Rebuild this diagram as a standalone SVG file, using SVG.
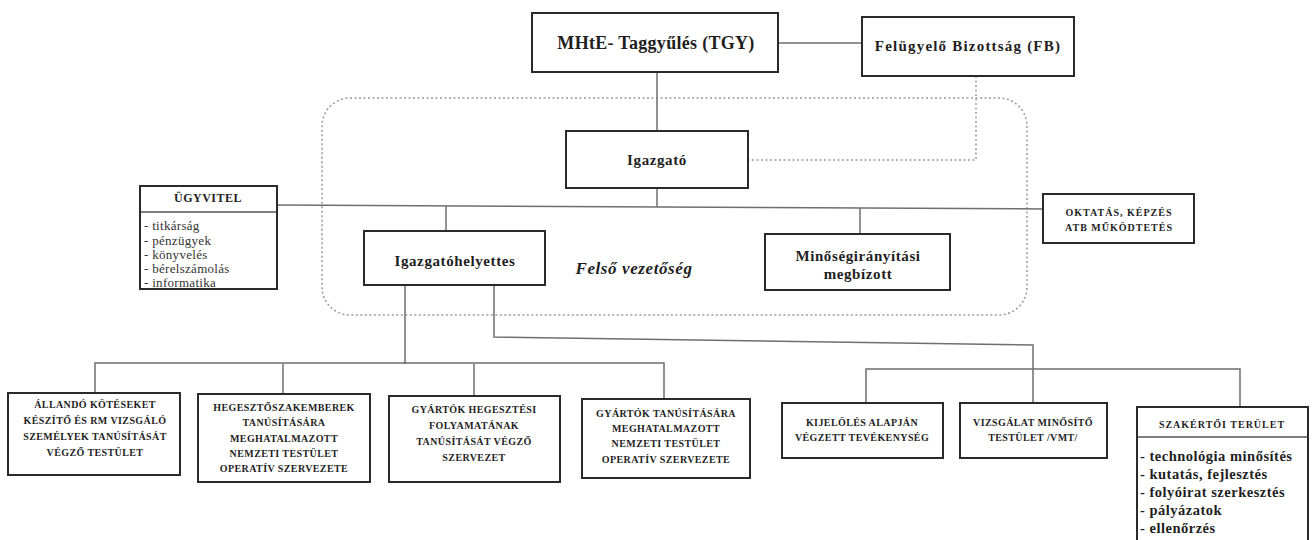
<svg xmlns="http://www.w3.org/2000/svg" width="1312" height="540" viewBox="0 0 1312 540">
<style>
.box{fill:#fff;stroke:#2a2a2a;stroke-width:2}
.ln{fill:none;stroke:#6e6e6e;stroke-width:1.5}
.dot{fill:none;stroke:#9a9a9a;stroke-width:1.5;stroke-dasharray:2 2.5}
text{font-family:"Liberation Serif","Times New Roman",serif;font-weight:bold;fill:#1e1e1e;text-anchor:middle}
.t18{font-size:18px;letter-spacing:0.3px}
.t15{font-size:15px;letter-spacing:0.6px}
.fb{font-size:15px;letter-spacing:1.2px}
.t11{font-size:12px;letter-spacing:0.5px}
.c{font-size:10px;letter-spacing:0.4px}
.ok{font-size:10px;letter-spacing:1px}
.li{font-size:13px;text-anchor:start;font-weight:normal;fill:#333;letter-spacing:0.3px}
.lb{font-size:14.5px;text-anchor:start;letter-spacing:0.5px}
.it{font-size:17px;font-style:italic;letter-spacing:0.6px}
</style>
<rect width="1312" height="540" fill="#fff"/>
<g id="connectors">
<rect class="dot" x="322" y="98" width="705" height="217" rx="28"/>
<path class="dot" d="M976 76V160H748"/>
<path class="ln" d="M778 43H862"/>
<path class="ln" d="M657 72V131"/>
<path class="ln" d="M657 188V207"/>
<path class="ln" d="M278 205L1043 209"/>
<path class="ln" d="M446 206V231"/>
<path class="ln" d="M860 208V234"/>
<path class="ln" d="M405 285V364"/>
<path class="ln" d="M95 393V363H664V399"/>
<path class="ln" d="M283 364V394"/>
<path class="ln" d="M474 364V396"/>
<path class="ln" d="M494 285V337L1033 345V403"/>
<path class="ln" d="M866 403V369H1240V407"/>
</g>
<g id="tgy"><rect class="box" x="532" y="13" width="246" height="59"/><text class="t18" x="656" y="49">MHtE- Taggyűlés (TGY)</text></g>
<g id="fb"><rect class="box" x="862" y="17" width="212" height="59"/><text class="fb" x="968" y="51">Felügyelő Bizottság (FB)</text></g>
<g id="igazgato"><rect class="box" x="566" y="131" width="182" height="57"/><text class="t15" x="657" y="165">Igazgató</text></g>
<g id="ugyvitel"><rect class="box" x="140" y="186" width="137" height="103"/><path d="M141 212H276" stroke="#555" stroke-width="1.5"/><text class="t11" x="208" y="202">ÜGYVITEL</text>
<text class="li" x="144" y="230">- titkárság</text><text class="li" x="144" y="245">- pénzügyek</text><text class="li" x="144" y="259">- könyvelés</text><text class="li" x="144" y="273">- bérelszámolás</text><text class="li" x="144" y="287">- informatika</text></g>
<g id="oktatas"><rect class="box" x="1043" y="194" width="151" height="49"/><text class="ok" x="1119" y="216">OKTATÁS, KÉPZÉS</text><text class="ok" x="1119" y="231">ATB MŰKÖDTETÉS</text></g>
<g id="helyettes"><rect class="box" x="364" y="231" width="181" height="54"/><text class="t15" x="455" y="266">Igazgatóhelyettes</text></g>
<g id="minoseg"><rect class="box" x="765" y="234" width="185" height="56"/><text class="t15" x="858" y="261">Minőségirányítási</text><text class="t15" x="858" y="279">megbízott</text></g>
<text class="it" x="634" y="274">Felső vezetőség</text>
<g id="allando"><rect class="box" x="8" y="393" width="172" height="82"/><text class="c" x="95" y="408">ÁLLANDÓ KÖTÉSEKET</text><text class="c" x="95" y="424">KÉSZÍTŐ ÉS RM VIZSGÁLÓ</text><text class="c" x="95" y="440">SZEMÉLYEK TANÚSÍTÁSÁT</text><text class="c" x="95" y="456">VÉGZŐ TESTÜLET</text></g>
<g id="hegeszto"><rect class="box" x="198" y="394" width="172" height="88"/><text class="c" x="284" y="411">HEGESZTŐSZAKEMBEREK</text><text class="c" x="284" y="426">TANÚSÍTÁSÁRA</text><text class="c" x="284" y="442">MEGHATALMAZOTT</text><text class="c" x="284" y="457">NEMZETI TESTÜLET</text><text class="c" x="284" y="472">OPERATÍV SZERVEZETE</text></g>
<g id="gyartok1"><rect class="box" x="389" y="396" width="171" height="86"/><text class="c" x="474" y="413">GYÁRTÓK HEGESZTÉSI</text><text class="c" x="474" y="429">FOLYAMATÁNAK</text><text class="c" x="474" y="445">TANÚSÍTÁSÁT VÉGZŐ</text><text class="c" x="474" y="461">SZERVEZET</text></g>
<g id="gyartok2"><rect class="box" x="582" y="399" width="168" height="79"/><text class="c" x="666" y="417">GYÁRTÓK TANÚSÍTÁSÁRA</text><text class="c" x="666" y="432">MEGHATALMAZOTT</text><text class="c" x="666" y="447">NEMZETI TESTÜLET</text><text class="c" x="666" y="463">OPERATÍV SZERVEZETE</text></g>
<g id="kijeloles"><rect class="box" x="782" y="403" width="161" height="55"/><text class="c" x="862" y="426">KIJELÖLÉS ALAPJÁN</text><text class="c" x="862" y="441">VÉGZETT TEVÉKENYSÉG</text></g>
<g id="vizsgalat"><rect class="box" x="960" y="403" width="147" height="55"/><text class="c" x="1033" y="426">VIZSGÁLAT MINŐSÍTŐ</text><text class="c" x="1033" y="441">TESTÜLET /VMT/</text></g>
<g id="szakertoi"><path class="box" d="M1137 541V407H1308V541"/><path d="M1138 437H1307" stroke="#555" stroke-width="1.5"/><text class="ok" x="1222" y="428">SZAKÉRTŐI TERÜLET</text>
<text class="lb" x="1140" y="461">- technológia minősítés</text><text class="lb" x="1140" y="479">- kutatás, fejlesztés</text><text class="lb" x="1140" y="497">- folyóirat szerkesztés</text><text class="lb" x="1140" y="515">- pályázatok</text><text class="lb" x="1140" y="533">- ellenőrzés</text></g>
</svg>
